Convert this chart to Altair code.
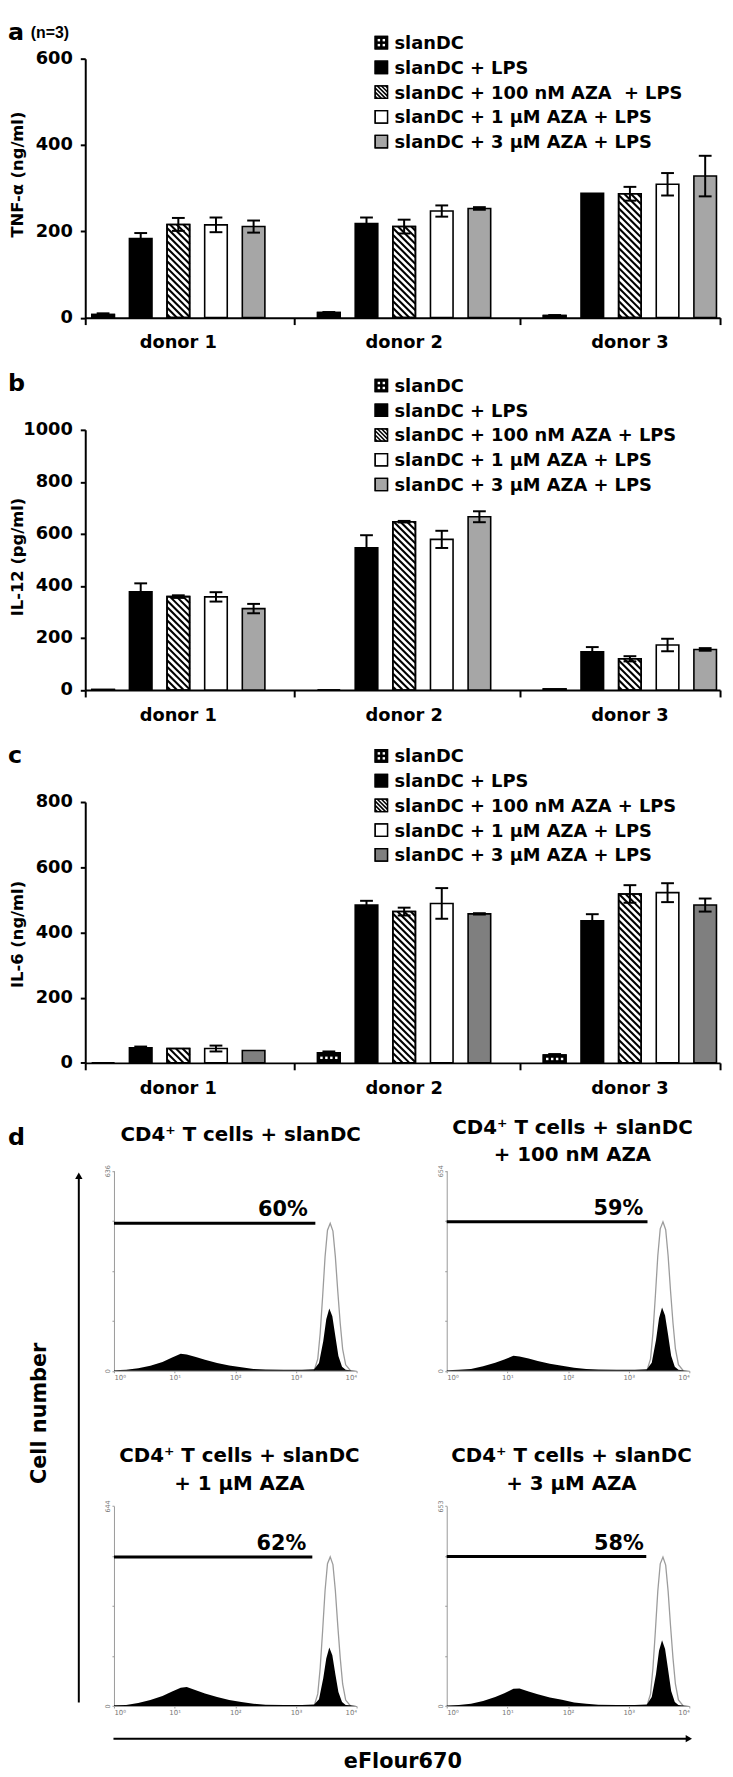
import altair as alt
import pandas as pd

# ---------------- data ----------------
conditions = ["slanDC", "slanDC + LPS", "slanDC + 100 nM AZA + LPS",
              "slanDC + 1 µM AZA + LPS", "slanDC + 3 µM AZA + LPS"]
legend_labels_a = ["slanDC", "slanDC + LPS", "slanDC + 100 nM AZA\u00a0 + LPS",
                   "slanDC + 1 µM AZA + LPS", "slanDC + 3 µM AZA + LPS"]
donors = ["donor 1", "donor 2", "donor 3"]

tnf_mean = [[7, 183, 216, 215, 211], [12, 218, 211, 247, 253], [5, 288, 287, 309, 328]]
tnf_err = [[3, 13, 15, 17, 14], [1, 14, 16, 13, 3], [1, 0, 16, 26, 47]]
il12_mean = [[2, 378, 359, 358, 313], [0, 547, 647, 579, 666], [4, 147, 120, 173, 156]]
il12_err = [[0, 32, 5, 18, 18], [0, 48, 3, 33, 21], [0, 18, 10, 24, 5]]
il6_mean = [[0, 46, 44, 44, 38], [31, 484, 464, 489, 457], [24, 436, 518, 522, 484]]
il6_err = [[0, 4, 0, 9, 0], [4, 13, 12, 47, 2], [3, 20, 27, 29, 20]]

# flow cytometry histograms (x = log10 eFluor670, y = cell count)
hist_titles = [["CD4⁺ T cells + slanDC"],
               ["CD4⁺ T cells + slanDC", "+ 100 nM AZA"],
               ["CD4⁺ T cells + slanDC", "+ 1 µM AZA"],
               ["CD4⁺ T cells + slanDC", "+ 3 µM AZA"]]
hist_ymax = [636, 654, 644, 653]
hist_pct = ["60%", "59%", "62%", "58%"]
gate_end = [3.32, 3.31, 3.27, 3.29]
gate_level = [469, 487, 480, 488]
pct_x = [3.195, 3.24, 3.17, 3.25]
black_x = [0.0, 0.2, 0.4, 0.6, 0.8, 0.95, 1.1, 1.2, 1.35, 1.5, 1.7, 1.9, 2.1, 2.3, 2.5,
           2.8, 3.1, 3.3, 3.38, 3.45, 3.5, 3.55, 3.6, 3.65, 3.7, 3.76, 3.82, 3.9, 4.0]
black_tl = [2, 3, 8, 16, 28, 41, 54, 52, 44, 35, 25, 17, 11, 6, 4, 3, 3, 5, 25, 94, 164, 198, 173, 110, 47, 13, 3, 2, 0]
black_tr = [2, 3, 6, 15, 26, 37, 49, 47, 40, 32, 23, 16, 10, 6, 4, 3, 3, 5, 26, 100, 172, 207, 181, 117, 49, 13, 3, 2, 0]
black_bl = [2, 3, 10, 19, 32, 46, 59, 61, 51, 40, 29, 19, 13, 7, 4, 3, 3, 5, 22, 89, 153, 188, 163, 102, 45, 13, 3, 2, 0]
black_br = [2, 3, 7, 16, 29, 42, 56, 57, 47, 38, 28, 20, 11, 7, 4, 3, 3, 5, 29, 104, 180, 215, 186, 118, 49, 13, 3, 2, 0]
gray_x = [3.30, 3.36, 3.40, 3.44, 3.48, 3.52, 3.565, 3.61, 3.65, 3.69, 3.73, 3.77, 3.82, 3.90]
gray_tl = [0, 38, 120, 236, 362, 447, 469, 444, 362, 252, 151, 69, 19, 0]
gray_tr = [0, 39, 124, 245, 376, 464, 487, 461, 376, 261, 157, 72, 20, 0]
gray_bl = [0, 39, 123, 242, 371, 458, 480, 455, 371, 258, 155, 71, 19, 0]
gray_br = [0, 39, 124, 245, 375, 464, 486, 460, 375, 261, 157, 72, 20, 0]

# ---------------- layout constants (page pixels) ----------------
FONT = "DejaVu Sans"
PLOT_L = 86.0           # left edge of the bar-chart plot area (grid column 1)
COL1_W = 29.0           # histogram y axes sit 29 px right of it
SLOT_PX = 38.0
X_DOMAIN = [-0.4737, 16.395]
X_TICKS = [-0.4737, 5.079, 11.079, 16.395]
HALF = 0.3
CAP = 0.17
LEG_PITCH = 25
ICON = 12.5
ICON_CX = 385.0
LEG_TX = 398.3
ROW_SP = 112.8
TOPS = [49.5, 423.8, 799.3]
HEIGHTS = [261.5, 262.7, 263.4]


def hatch_segs(w, h, sp):
    out = []
    c = sp / 2.0
    while c < w + h:
        xa = max(0.0, c - h)
        xb = min(w, c)
        if xb - xa > 0.3:
            out.append((xa, c - xa, xb, c - xb))
        c += sp
    return out


def dot_grid(w, h, pitch):
    nx = int((w - 2) // pitch)
    ny = int((h - 2) // pitch)
    if nx < 1 or ny < 1:
        return []
    sx = (w - pitch * (nx - 1)) / 2.0
    sy = (h - pitch * (ny - 1)) / 2.0
    return [(sx + i * pitch, sy + j * pitch) for i in range(nx) for j in range(ny)]


class Frame:
    """scales + axes shared by every layer of one panel"""

    def __init__(self, xs, ys, xaxis, yaxis):
        self.xs, self.ys, self.xa, self.ya = xs, ys, xaxis, yaxis

    def X(self, f):
        return alt.X(f, scale=self.xs, axis=self.xa)

    def Y(self, f):
        return alt.Y(f, scale=self.ys, axis=self.ya)


def text_layer(fr, rows, align="center", baseline="middle", font=FONT, size=18, angle=0):
    kw = dict(align=align, baseline=baseline, font=font, fontWeight="bold",
              fontSize=size, color="black")
    if angle:
        kw["angle"] = angle
    return alt.Chart(pd.DataFrame(rows)).mark_text(**kw).encode(
        x=fr.X("x:Q"), y=fr.Y("y:Q"), text="t:N")


def rule_layer(fr, rows, width=2.0):
    return alt.Chart(pd.DataFrame(rows)).mark_rule(color="black", strokeWidth=width).encode(
        x=fr.X("x0:Q"), x2="x1:Q", y=fr.Y("y0:Q"), y2="y1:Q")


def bar_panel(k, means, errs, ymax, yticks, ytitle, title_y, gray, letter, letter_base,
              leg_top, leg_labels, extra=None):
    top, height = TOPS[k], HEIGHTS[k]
    bottom = top + height
    pxu = height / ymax

    def dx(ax):
        return X_DOMAIN[0] + (ax - PLOT_L) / SLOT_PX

    def dy(ay):
        return ymax * (bottom - ay) / height

    xs = alt.Scale(domain=X_DOMAIN, range=[0, 727 - PLOT_L], nice=False, zero=False)
    ys = alt.Scale(domain=[0, ymax], nice=False)
    xaxis = alt.Axis(values=X_TICKS, labels=False, ticks=True, tickSize=7, tickWidth=2,
                     tickColor="black", domainColor="black", domainWidth=2, title=None, grid=False)
    yaxis = alt.Axis(values=yticks, format="d", tickSize=5, tickWidth=2, tickColor="black",
                     domainColor="black", domainWidth=2, labelFont=FONT, labelFontWeight="bold",
                     labelFontSize=18, labelColor="black", labelPadding=8, title=None, grid=False)
    fr = Frame(xs, ys, xaxis, yaxis)
    fills = ["black", "black", "white", "white", gray]
    brows, hrows, drows, erows = [], [], [], []
    for d in range(3):
        for c in range(5):
            slot = 6 * d + c
            v, e = means[d][c], errs[d][c]
            x0, x1 = slot - HALF, slot + HALF
            brows.append(dict(x0=x0, x1=x1, v=v, z=0, f=fills[c], c=c))
            wpx, hpx = (x1 - x0) * SLOT_PX, v * pxu
            if c == 2:
                for (xa, ya, xb, yb) in hatch_segs(wpx, hpx, 6.7):
                    hrows.append(dict(x0=x0 + xa / SLOT_PX, y0=ya / pxu,
                                      x1=x0 + xb / SLOT_PX, y1=yb / pxu))
            if c == 0:
                for (X, Y) in dot_grid(wpx, hpx, 5):
                    drows.append(dict(x=x0 + X / SLOT_PX, y=Y / pxu))
            if e > 0:
                erows.append(dict(s=slot, lo=v - e, hi=v + e, cx0=slot - CAP, cx1=slot + CAP))
    bdf = pd.DataFrame(brows)
    layers = [alt.Chart(bdf).mark_bar(stroke="black", strokeWidth=1.6).encode(
        x=fr.X("x0:Q"), x2="x1:Q", y=fr.Y("v:Q"), y2="z:Q",
        fill=alt.Fill("f:N", scale=None))]
    if hrows:
        layers.append(rule_layer(fr, hrows, 2.1))
    if drows:
        layers.append(alt.Chart(pd.DataFrame(drows)).mark_square(
            color="white", size=6, opacity=1, filled=True).encode(x=fr.X("x:Q"), y=fr.Y("y:Q")))
    layers.append(alt.Chart(bdf[bdf["c"].isin([0, 2])]).mark_bar(
        stroke="black", strokeWidth=1.6, fillOpacity=0).encode(
        x=fr.X("x0:Q"), x2="x1:Q", y=fr.Y("v:Q"), y2="z:Q"))
    edf = pd.DataFrame(erows)
    layers.append(alt.Chart(edf).mark_rule(color="black", strokeWidth=2).encode(
        x=fr.X("s:Q"), y=fr.Y("lo:Q"), y2="hi:Q"))
    for yy in ["hi", "lo"]:
        layers.append(alt.Chart(edf).mark_rule(color="black", strokeWidth=2).encode(
            x=fr.X("cx0:Q"), x2="cx1:Q", y=fr.Y(yy + ":Q")))
    ddf = pd.DataFrame(dict(x=[6 * d + 2 for d in range(3)], t=donors))
    layers.append(alt.Chart(ddf).mark_text(font=FONT, fontWeight="bold", fontSize=18,
                                           baseline="middle", color="black").encode(
        x=fr.X("x:Q"), y=alt.value(height + 26), text="t:N"))

    # legend (icons + labels), placed in page pixels converted to data units
    lfills = ["black", "black", "white", "white", gray]
    rects, hat, dts, txt = [], [], [], []
    for i in range(5):
        cy = leg_top + i * LEG_PITCH
        px0, px1 = ICON_CX - ICON / 2, ICON_CX + ICON / 2
        pyt, pyb = cy - ICON / 2, cy + ICON / 2
        rects.append(dict(x0=dx(px0), x1=dx(px1), y0=dy(pyt), y1=dy(pyb), f=lfills[i]))
        if i == 2:
            for (xa, ya, xb, yb) in hatch_segs(ICON, ICON, 4.2):
                hat.append(dict(x0=dx(px0 + xa), y0=dy(pyb - ya), x1=dx(px0 + xb), y1=dy(pyb - yb)))
        if i == 0:
            for (X, Y) in dot_grid(ICON, ICON, 5):
                dts.append(dict(x=dx(px0 + X), y=dy(pyb - Y)))
        txt.append(dict(x=dx(LEG_TX), y=dy(cy + 1.5), t=leg_labels[i]))
    rdf = pd.DataFrame(rects)
    layers.append(alt.Chart(rdf).mark_rect(stroke="black", strokeWidth=1.3).encode(
        x=fr.X("x0:Q"), x2="x1:Q", y=fr.Y("y0:Q"), y2="y1:Q", fill=alt.Fill("f:N", scale=None)))
    layers.append(rule_layer(fr, hat, 1.6))
    layers.append(alt.Chart(rdf).mark_rect(stroke="black", strokeWidth=1.3, fillOpacity=0).encode(
        x=fr.X("x0:Q"), x2="x1:Q", y=fr.Y("y0:Q"), y2="y1:Q"))
    layers.append(alt.Chart(pd.DataFrame(dts)).mark_square(
        color="white", size=6, opacity=1, filled=True).encode(x=fr.X("x:Q"), y=fr.Y("y:Q")))
    layers.append(text_layer(fr, txt, align="left", size=18))
    # y-axis title (rotated), panel letter, optional "(n=3)"
    layers.append(text_layer(fr, [dict(x=dx(18.5), y=dy(top + title_y), t=ytitle)],
                             size=16.5, angle=270))
    layers.append(text_layer(fr, [dict(x=dx(8), y=dy(letter_base[1]), t=letter)],
                             align="left", baseline="alphabetic", size=letter_base[0]))
    if extra:
        layers.append(text_layer(fr, [dict(x=dx(extra[0]), y=dy(extra[1]), t=extra[2])],
                                 align="left", baseline="alphabetic", font="Liberation Sans",
                                 size=16))
    return alt.layer(*layers).properties(width=COL1_W, height=height)


pa = bar_panel(0, tnf_mean, tnf_err, 600, [0, 200, 400, 600], "TNF-α (ng/ml)", 117, "#a6a6a6",
               "a", (24, 30.5), 33.3, legend_labels_a, extra=(31, 29, "(n=3)"))
pb = bar_panel(1, il12_mean, il12_err, 1000, [0, 200, 400, 600, 800, 1000], "IL-12 (pg/ml)",
               128.4, "#a6a6a6", "b", (24, 385), 379, conditions)
pc = bar_panel(2, il6_mean, il6_err, 800, [0, 200, 400, 600, 800], "IL-6 (ng/ml)", 133.7,
               "#7f7f7f", "c", (24, 760), 752.7, conditions)

# ---------------- panel d ----------------
H_W, H_H = 245.0, 202.0
D_TOP = TOPS[2] + HEIGHTS[2] + ROW_SP                 # top of grid row 4
ROW4_H = 1373 - D_TOP                                  # plot bottom of upper histograms
ROW5_TOP = D_TOP + ROW4_H + ROW_SP
ROW5_H = 1711 - ROW5_TOP
hist_x0 = [115.0, 451.0, 115.0, 451.0]
hist_bottom = [1373.0, 1373.0, 1711.0, 1711.0]
hist_cellh = [ROW4_H, ROW4_H, ROW5_H, ROW5_H]
hist_cellw = [451.0 - 115.0, H_W, 451.0 - 115.0, H_W]
blacks = [black_tl, black_tr, black_bl, black_br]
grays = [gray_tl, gray_tr, gray_bl, gray_br]
title_pos = [(243, [1134.9]), (578, [1128.3, 1154.9]), (241.7, [1458.3, 1486.6]),
             (577, [1458.3, 1486.6])]
sup = "['⁰','¹','²','³','⁴']"


def hist_panel(i):
    ymax = hist_ymax[i]
    ch = hist_cellh[i]
    x0a, bot = hist_x0[i], hist_bottom[i]

    def dx(ax):
        return (ax - x0a) * 4.0 / H_W

    def dy(ay):
        return ymax * (bot - ay) / H_H

    xs = alt.Scale(domain=[0, 4], range=[0, H_W], nice=False, zero=False)
    ys = alt.Scale(domain=[0, ymax], range=[ch, ch - H_H], nice=False, zero=False)
    xaxis = alt.Axis(values=[0, 1, 2, 3, 4], labelExpr="'10' + " + sup + "[datum.value]",
                     labelFont=FONT, labelFontSize=7, labelColor="#777777", labelPadding=1,
                     tickSize=2, tickColor="#999999", domainColor="#999999", domainWidth=1,
                     title=None, grid=False)
    yaxis = alt.Axis(values=[0, ymax / 4, ymax / 2, 3 * ymax / 4, ymax], format="d",
                     labelExpr="datum.value == 0 || datum.value == %d ? datum.label : ''" % ymax,
                     labelFont=FONT, labelFontSize=6.5, labelColor="#777777", labelAngle=270,
                     labelAlign="center", labelBaseline="bottom", labelPadding=1, tickSize=2,
                     tickColor="#999999", domainColor="#999999", domainWidth=1, title=None,
                     grid=False)
    fr = Frame(xs, ys, xaxis, yaxis)
    bdf = pd.DataFrame({"lx": black_x, "n": blacks[i]})
    gdf = pd.DataFrame({"lx": gray_x, "n": grays[i]})
    layers = [
        alt.Chart(gdf).mark_line(color="#9c9c9c", strokeWidth=1.3).encode(
            x=fr.X("lx:Q"), y=fr.Y("n:Q")),
        alt.Chart(bdf).mark_area(color="black", interpolate="linear").encode(
            x=fr.X("lx:Q"), y=fr.Y("n:Q")),
    ]
    gdf2 = pd.DataFrame({"g0": [0.0], "g1": [gate_end[i]], "lv": [gate_level[i]],
                         "px": [pct_x[i]], "t": [hist_pct[i]]})
    layers.append(alt.Chart(gdf2).mark_rule(color="black", strokeWidth=3).encode(
        x=fr.X("g0:Q"), x2="g1:Q", y=fr.Y("lv:Q")))
    layers.append(alt.Chart(gdf2).mark_text(align="right", baseline="middle", dy=-13, font=FONT,
                                            fontWeight="bold", fontSize=21, color="black").encode(
        x=fr.X("px:Q"), y=fr.Y("lv:Q"), text="t:N"))
    cx, lines_y = title_pos[i]
    trows = [dict(x=dx(cx), y=dy(yy), t=line) for line, yy in zip(hist_titles[i], lines_y)]
    layers.append(text_layer(fr, trows, size=20))
    if i == 0:
        layers.append(text_layer(fr, [dict(x=dx(8), y=dy(1145), t="d")], align="left",
                                 baseline="alphabetic", size=24))
        layers.append(text_layer(fr, [dict(x=dx(40), y=dy(1416), t="Cell number")],
                                 size=21, angle=270))
        layers.append(rule_layer(fr, [dict(x0=dx(79.5), x1=dx(79.5), y0=dy(1177.5), y1=dy(1708))], 2.0))
        layers.append(alt.Chart(pd.DataFrame({"x": [dx(79.5)], "y": [dy(1176.1)]})).mark_point(
            shape="triangle-up", filled=True, size=55, color="black", opacity=1).encode(
            x=fr.X("x:Q"), y=fr.Y("y:Q")))
    if i == 2:
        layers.append(text_layer(fr, [dict(x=dx(406.7), y=dy(1767.6), t="eFlour670")], size=21))
        layers.append(rule_layer(fr, [dict(x0=dx(114.5), x1=dx(694.5), y0=dy(1744), y1=dy(1744))], 2.0))
        layers.append(alt.Chart(pd.DataFrame({"x": [dx(695.5)], "y": [dy(1744)]})).mark_point(
            shape="triangle-right", filled=True, size=55, color="black", opacity=1).encode(
            x=fr.X("x:Q"), y=fr.Y("y:Q")))
    return alt.layer(*layers).properties(width=hist_cellw[i], height=ch)


def spacer():
    return alt.Chart(pd.DataFrame({"z": [0]})).mark_point(opacity=0).encode(
        x=alt.value(0), y=alt.value(0)).properties(width=1, height=1)


chart = alt.concat(
    pa, spacer(), spacer(),
    pb, spacer(), spacer(),
    pc, spacer(), spacer(),
    spacer(), hist_panel(0), hist_panel(1),
    spacer(), hist_panel(2), hist_panel(3),
    columns=3, spacing={"row": ROW_SP, "column": 0},
    bounds="flush", align="each",
).properties(
    padding={"left": 0, "top": 3.5, "right": 4, "bottom": 4}
).configure_view(stroke=None).configure_axis(grid=False)

chart.save("out.html", embed_options={"renderer": "svg", "actions": False})
